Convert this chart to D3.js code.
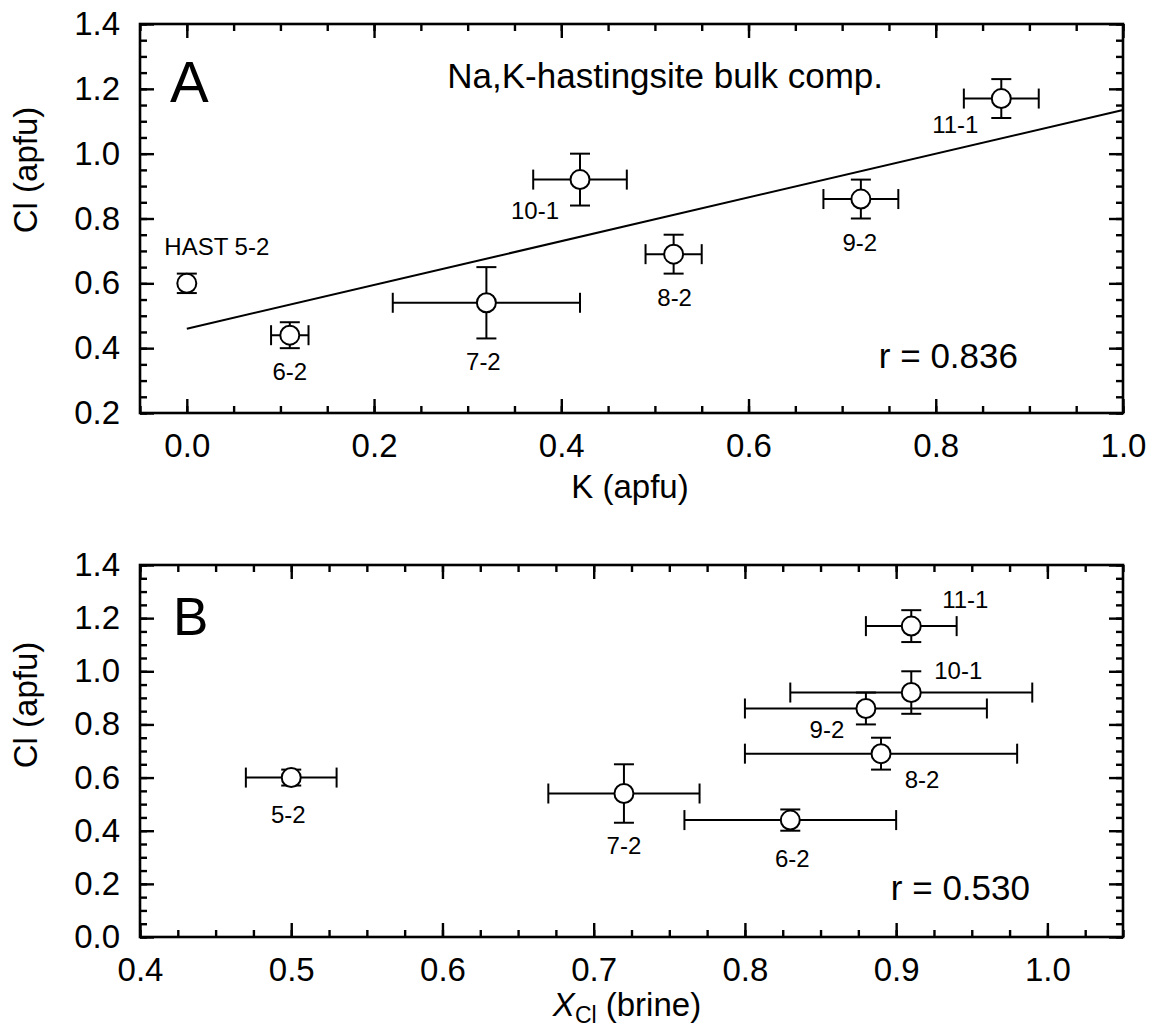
<!DOCTYPE html>
<html lang="en">
<head>
<meta charset="utf-8">
<title>Cl vs K and XCl (brine)</title>
<script src="https://d3js.org/d3.v7.min.js"></script>
<style>
  body { margin: 0; background: #fff; }
  text { font-family: "Liberation Sans", Arial, sans-serif; fill: #000; }
</style>
</head>
<body>
<script>
// ---- data ----
var namesA = ["HAST 5-2", "6-2", "7-2", "10-1", "8-2", "9-2", "11-1"];
var namesB = ["5-2", "6-2", "7-2", "10-1", "8-2", "9-2", "11-1"];
var kApfu   = [0.00, 0.11, 0.32, 0.42, 0.52, 0.72, 0.87];
var kErr    = [0.00, 0.02, 0.10, 0.05, 0.03, 0.04, 0.04];
var clApfu  = [0.60, 0.44, 0.54, 0.92, 0.69, 0.86, 1.17];
var clErr   = [0.03, 0.04, 0.11, 0.08, 0.06, 0.06, 0.06];
var xclBrine = [0.50, 0.83, 0.72, 0.91, 0.89, 0.88, 0.91];
var xclErr   = [0.03, 0.07, 0.05, 0.08, 0.09, 0.08, 0.03];

// regression line in panel A (end points)
var fitK  = [0.0, 1.0];
var fitCl = [0.46, 1.135];

var aXTicks = [0.0, 0.2, 0.4, 0.6, 0.8, 1.0];
var aYTicks = [0.2, 0.4, 0.6, 0.8, 1.0, 1.2, 1.4];
var bXTicks = [0.4, 0.5, 0.6, 0.7, 0.8, 0.9, 1.0];
var bYTicks = [0.0, 0.2, 0.4, 0.6, 0.8, 1.0, 1.2, 1.4];

// ---- layout ----
var W = 1151, H = 1031;
var svg = d3.select("body").append("svg").attr("width", W).attr("height", H);

var fmt = d3.format(".1f");
var capHalf = 10, radius = 9.5;

// label offsets (px, relative to point centre; text-anchor middle, baseline)
var offA = [[30, -28], [0, 45], [-3, 67], [-45, 39], [1, 52], [-1, 52], [-46, 34]];
var offB = [[-3, 45], [2, 47], [0, 60], [47, -14], [41, 34], [-39, 30], [54, -18]];

function drawAxes(g, x, y, xMajor, yMajor, xStep, yStep) {
  var w = x.range()[1], h = y.range()[0];
  var xMinor = d3.range(x.domain()[0], x.domain()[1] + 1e-9, xStep);
  var yMinor = d3.range(y.domain()[0], y.domain()[1] + 1e-9, yStep);

  var axes = [
    [d3.axisBottom(x).tickValues(xMinor).tickSize(-7).tickFormat(""), 0, h],
    [d3.axisBottom(x).tickValues(xMajor).tickSize(-14).tickPadding(21).tickFormat(fmt), 0, h],
    [d3.axisTop(x).tickValues(xMinor).tickSize(-7).tickFormat(""), 0, 0],
    [d3.axisTop(x).tickValues(xMajor).tickSize(-14).tickFormat(""), 0, 0],
    [d3.axisLeft(y).tickValues(yMinor).tickSize(-7).tickFormat(""), 0, 0],
    [d3.axisLeft(y).tickValues(yMajor).tickSize(-14).tickPadding(20).tickFormat(fmt), 0, 0],
    [d3.axisRight(y).tickValues(yMinor).tickSize(-7).tickFormat(""), w, 0],
    [d3.axisRight(y).tickValues(yMajor).tickSize(-14).tickFormat(""), w, 0]
  ];
  axes.forEach(function(a) {
    var ag = g.append("g").attr("transform", "translate(" + a[1] + "," + a[2] + ")").call(a[0]);
    ag.select(".domain").remove();
    ag.selectAll("line").attr("stroke", "#000").attr("stroke-width", 2.4);
    ag.selectAll("text").attr("font-size", 33).attr("font-family", null).attr("fill", "#000");
  });

  g.append("rect")
    .attr("x", 0).attr("y", 0).attr("width", w).attr("height", h)
    .attr("fill", "none").attr("stroke", "#000").attr("stroke-width", 2.6);
}

function drawPoints(g, x, y, xs, xe, ys, ye, names, offs) {
  var pts = xs.map(function(v, i) {
    return { x: v, xe: xe[i], y: ys[i], ye: ye[i], name: names[i], off: offs[i] };
  });
  var bars = g.append("g").attr("stroke", "#000").attr("stroke-width", 2);
  pts.forEach(function(d) {
    var cx = x(d.x), cy = y(d.y);
    if (d.xe > 0) {
      var x0 = x(d.x - d.xe), x1 = x(d.x + d.xe);
      bars.append("line").attr("x1", x0).attr("x2", x1).attr("y1", cy).attr("y2", cy);
      bars.append("line").attr("x1", x0).attr("x2", x0).attr("y1", cy - capHalf).attr("y2", cy + capHalf);
      bars.append("line").attr("x1", x1).attr("x2", x1).attr("y1", cy - capHalf).attr("y2", cy + capHalf);
    }
    var y0 = y(d.y - d.ye), y1 = y(d.y + d.ye);
    bars.append("line").attr("x1", cx).attr("x2", cx).attr("y1", y0).attr("y2", y1);
    bars.append("line").attr("x1", cx - capHalf).attr("x2", cx + capHalf).attr("y1", y0).attr("y2", y0);
    bars.append("line").attr("x1", cx - capHalf).attr("x2", cx + capHalf).attr("y1", y1).attr("y2", y1);
  });

  g.selectAll("circle.pt").data(pts).enter().append("circle")
    .attr("class", "pt")
    .attr("cx", function(d) { return x(d.x); })
    .attr("cy", function(d) { return y(d.y); })
    .attr("r", radius)
    .attr("fill", "#fff").attr("stroke", "#000").attr("stroke-width", 2);

  g.selectAll("text.lbl").data(pts).enter().append("text")
    .attr("class", "lbl")
    .attr("x", function(d) { return x(d.x) + d.off[0]; })
    .attr("y", function(d) { return y(d.y) + d.off[1]; })
    .attr("text-anchor", "middle")
    .attr("font-size", 24)
    .text(function(d) { return d.name; });
}

// ================= Panel A =================
var frameA = { left: 140, top: 24, width: 983, height: 389 };
var gA = svg.append("g").attr("transform", "translate(" + frameA.left + "," + frameA.top + ")");
var xA = d3.scaleLinear().domain([-0.05, 1.0]).range([0, frameA.width]);
var yA = d3.scaleLinear().domain([0.2, 1.4]).range([frameA.height, 0]);

drawAxes(gA, xA, yA, aXTicks, aYTicks, 0.05, 0.05);

gA.append("path")
  .datum(fitK.map(function(k, i) { return [k, fitCl[i]]; }))
  .attr("d", d3.line().x(function(d) { return xA(d[0]); }).y(function(d) { return yA(d[1]); }))
  .attr("fill", "none").attr("stroke", "#000").attr("stroke-width", 2);

drawPoints(gA, xA, yA, kApfu, kErr, clApfu, clErr, namesA, offA);

gA.append("text").attr("x", 30).attr("y", 78).attr("font-size", 58).text("A");
gA.append("text").attr("x", 743).attr("y", 64).attr("font-size", 35)
  .attr("text-anchor", "end").text("Na,K-hastingsite bulk comp.");
gA.append("text").attr("x", 878).attr("y", 344).attr("font-size", 35)
  .attr("text-anchor", "end").text("r = 0.836");

svg.append("text").attr("x", 630).attr("y", 498).attr("font-size", 33)
  .attr("text-anchor", "middle").text("K (apfu)");
svg.append("text").attr("transform", "translate(37,170) rotate(-90)")
  .attr("font-size", 33).attr("text-anchor", "middle").text("Cl (apfu)");

// ================= Panel B =================
var frameB = { left: 140, top: 565, width: 983, height: 372 };
var gB = svg.append("g").attr("transform", "translate(" + frameB.left + "," + frameB.top + ")");
var xB = d3.scaleLinear().domain([0.4, 1.05]).range([0, frameB.width]);
var yB = d3.scaleLinear().domain([0.0, 1.4]).range([frameB.height, 0]);

drawAxes(gB, xB, yB, bXTicks, bYTicks, 0.025, 0.05);
drawPoints(gB, xB, yB, xclBrine, xclErr, clApfu, clErr, namesB, offB);

gB.append("text").attr("x", 33).attr("y", 70).attr("font-size", 53).text("B");
gB.append("text").attr("x", 890).attr("y", 335).attr("font-size", 35)
  .attr("text-anchor", "end").text("r = 0.530");

var xl = svg.append("text").attr("x", 627).attr("y", 1016).attr("font-size", 33)
  .attr("text-anchor", "middle");
xl.append("tspan").attr("font-style", "italic").text("X");
xl.append("tspan").attr("font-size", 23).attr("dy", 7).text("Cl");
xl.append("tspan").attr("dy", -7).text(" (brine)");

svg.append("text").attr("transform", "translate(37,705) rotate(-90)")
  .attr("font-size", 33).attr("text-anchor", "middle").text("Cl (apfu)");
</script>
</body>
</html>
